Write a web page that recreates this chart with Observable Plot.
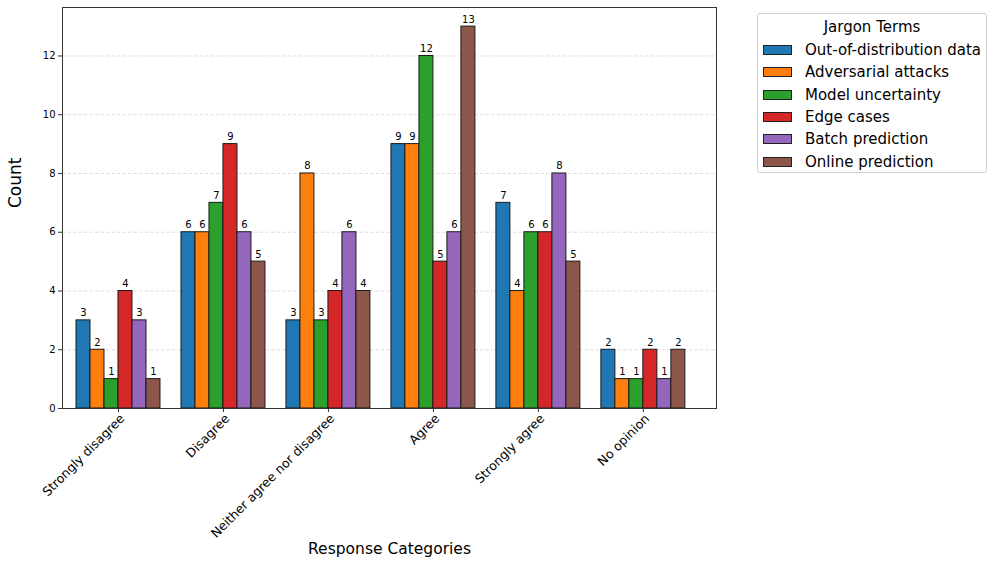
<!DOCTYPE html>
<html>
<head>
<meta charset="utf-8">
<script src="https://cdn.jsdelivr.net/npm/d3@7"></script>
<script src="https://cdn.jsdelivr.net/npm/@observablehq/plot@0.6"></script>
<style>
  html, body { margin: 0; padding: 0; background: #fff; }
  #wrap { position: relative; width: 997px; height: 565px; font-family: "DejaVu Sans", sans-serif; }
  #legend { position: absolute; left: 757px; top: 13px; width: 230px; height: 160px; border: 1px solid #d0d0d0; border-radius: 3px; background: #fff; box-sizing: border-box; }
  #legend .title { text-align: center; font-size: 15px; margin-top: 4px; height: 21px; }
  #legend .row { display: flex; align-items: center; height: 22.3px; font-size: 15px; }
  #legend .sw { width: 29px; height: 10px; border: 1px solid #222; margin-left: 5px; margin-right: 13px; box-sizing: border-box; }
</style>
</head>
<body>
<div id="wrap">
  <div id="chart"></div>
  <div id="legend"></div>
</div>
<script>
const categories = ["Strongly disagree", "Disagree", "Neither agree nor disagree", "Agree", "Strongly agree", "No opinion"];
const terms = ["Out-of-distribution data", "Adversarial attacks", "Model uncertainty", "Edge cases", "Batch prediction", "Online prediction"];
const colors = ["#1f77b4", "#ff7f0e", "#2ca02c", "#d62728", "#9467bd", "#8c564b"];
const outOfDistribution = [3, 6, 3, 9, 7, 2];
const adversarialAttacks = [2, 6, 8, 9, 4, 1];
const modelUncertainty = [1, 7, 3, 12, 6, 1];
const edgeCases = [4, 9, 4, 5, 6, 2];
const batchPrediction = [3, 6, 6, 6, 8, 1];
const onlinePrediction = [1, 5, 4, 13, 5, 2];
const yTicks = [0, 2, 4, 6, 8, 10, 12];

const series = [outOfDistribution, adversarialAttacks, modelUncertainty, edgeCases, batchPrediction, onlinePrediction];
const w = 0.8 / terms.length;
const data = [];
categories.forEach((c, i) => {
  terms.forEach((t, j) => {
    data.push({cat: c, term: t, value: series[j][i], center: i + j * w, x1: i + j * w - w / 2, x2: i + j * w + w / 2});
  });
});
const xTickPos = categories.map((c, i) => i + 2.5 * w);

const chart = Plot.plot({
  width: 997,
  height: 565,
  marginLeft: 62,
  marginRight: 281,
  marginTop: 7,
  marginBottom: 157,
  style: {fontFamily: "DejaVu Sans, sans-serif", background: "white", color: "black"},
  x: {type: "linear", domain: [-0.2, 6.03]},
  y: {domain: [0, 13.65]},
  color: {domain: terms, range: colors},
  marks: [
    Plot.gridY(yTicks.filter(d => d > 0), {stroke: "#b0b0b0", strokeOpacity: 0.6, strokeDasharray: "3.5,2", strokeWidth: 0.7}),
    Plot.rectY(data, {x1: "x1", x2: "x2", y1: 0, y2: "value", fill: "term", stroke: "#1a1a1a", strokeWidth: 1}),
    Plot.text(data, {x: "center", y: "value", text: d => String(d.value), dy: -4, lineAnchor: "bottom", fontSize: 10, fill: "black"}),
    Plot.frame({stroke: "#333", strokeWidth: 1}),
    Plot.axisY({ticks: yTicks, tickSize: 4, tickPadding: 3, fontSize: 10, label: null, stroke: "#333"}),
    Plot.axisX({ticks: xTickPos, tickSize: 4, label: null, tickFormat: () => "", stroke: "#333"}),
    Plot.axisX({ticks: xTickPos, tickSize: 0, tickPadding: 8, fontSize: 12.5, tickRotate: -45, dx: 4, label: null, tickFormat: d => categories[Math.round(d - 2.5 * w)]}),
    Plot.text(["Count"], {frameAnchor: "left", dx: -47, rotate: -90, fontSize: 17, fill: "black"}),
    Plot.text(["Response Categories"], {frameAnchor: "bottom", dy: 145, fontSize: 15.5, fill: "black"})
  ]
});
document.getElementById("chart").appendChild(chart);

const legend = document.getElementById("legend");
const title = document.createElement("div");
title.className = "title";
title.textContent = "Jargon Terms";
legend.appendChild(title);
terms.forEach((t, j) => {
  const row = document.createElement("div");
  row.className = "row";
  const sw = document.createElement("div");
  sw.className = "sw";
  sw.style.background = colors[j];
  const lab = document.createElement("span");
  lab.textContent = t;
  row.appendChild(sw);
  row.appendChild(lab);
  legend.appendChild(row);
});
</script>
</body>
</html>
